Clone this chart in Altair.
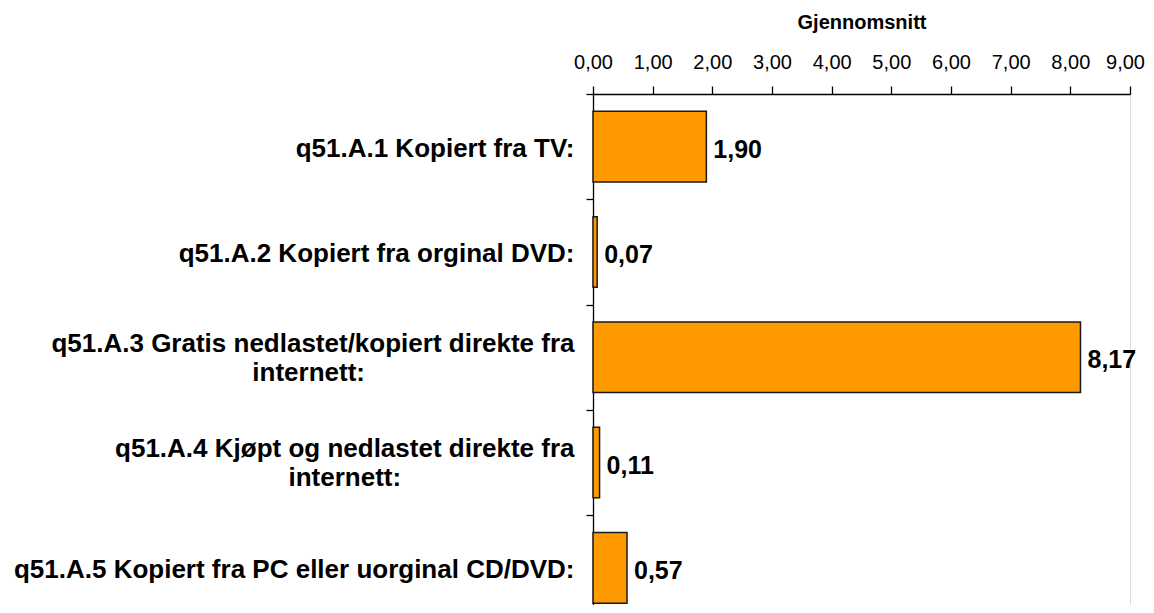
import json
import altair as alt
import pandas as pd

# ---- data ----
categories = [
    "q51.A.1 Kopiert fra TV:",
    "q51.A.2 Kopiert fra orginal DVD:",
    "q51.A.3 Gratis nedlastet/kopiert direkte fra internett:",
    "q51.A.4 Kjøpt og nedlastet direkte fra internett:",
    "q51.A.5 Kopiert fra PC eller uorginal CD/DVD:",
]
values = [1.90, 0.07, 8.17, 0.11, 0.57]
x_ticks = [0, 1, 2, 3, 4, 5, 6, 7, 8, 9]

# line breaks for the two long labels (second line centred under the first)
wrapped = {
    categories[2]: ["q51.A.3 Gratis nedlastet/kopiert direkte fra", "internett:"],
    categories[3]: ["q51.A.4 Kjøpt og nedlastet direkte fra", "internett:"],
}
centre_pad = {categories[2]: 29, categories[3]: 24}

df = pd.DataFrame({"kategori": categories, "verdi": values})

label_expr = "datum.label"
for key, lines in wrapped.items():
    shown = [lines[0], lines[1] + "\u00a0" * centre_pad[key] + "\u200b"]
    label_expr = (
        f"datum.label === {json.dumps(key, ensure_ascii=False)} ? "
        f"{json.dumps(shown, ensure_ascii=False)} : ({label_expr})"
    )

two_line_test = " || ".join(
    f"datum.label === {json.dumps(k, ensure_ascii=False)}" for k in wrapped
)

FONT = "Liberation Sans"
ORANGE = "#FF9900"

y_enc = alt.Y(
    "kategori:N",
    sort=categories,
    scale=alt.Scale(domain=categories, range=[0, 526.5], paddingInner=0, paddingOuter=0),
    axis=alt.Axis(
        title=None,
        labelFont=FONT,
        labelFontSize=26,
        labelFontWeight="bold",
        labelColor="#000000",
        labelLimit=800,
        labelPadding=12,
        labelLineHeight=29,
        labelExpr=label_expr,
        labelOffset={"condition": {"test": two_line_test, "value": -14}, "value": 2},
        tickSize=7,
        tickBand="extent",
        tickColor="#000000",
        tickWidth=1.3,
        domainColor="#000000",
        domainWidth=1.3,
    ),
)

x_enc = alt.X(
    "verdi:Q",
    scale=alt.Scale(domain=[0, 9], nice=False, zero=True),
    axis=alt.Axis(
        orient="top",
        values=x_ticks,
        labelExpr="replace(format(datum.value, '.2f'), '.', ',')",
        title="Gjennomsnitt",
        titleFont=FONT,
        titleFontSize=20,
        titleFontWeight="bold",
        titleColor="#000000",
        titlePadding=20,
        labelFont=FONT,
        labelFontSize=20,
        labelColor="#000000",
        labelPadding=14,
        labelFlush=False,
        labelOffset={"condition": {"test": "datum.value >= 9", "value": -5}, "value": 0},
        tickSize=8,
        tickColor="#000000",
        tickWidth=1.3,
        domainColor="#000000",
        domainWidth=1.3,
        grid=False,
    ),
)

base = alt.Chart(df)

bars = base.mark_bar(
    fill=ORANGE, stroke="#1a1a1a", strokeWidth=1.5, height={"band": 0.67}
).encode(y=y_enc, x=x_enc)

texts = base.transform_calculate(
    tekst="replace(format(datum.verdi, '.2f'), '.', ',')"
).mark_text(
    align="left", baseline="middle", dx=7, dy=3,
    font=FONT, fontSize=25, fontWeight="bold", color="#000000",
).encode(y=alt.Y("kategori:N", sort=categories), x="verdi:Q", text="tekst:N")

chart = (
    alt.layer(bars, texts)
    .properties(
        width=537,
        height=511,
        autosize=alt.AutoSizeParams(type="none"),
        padding={"left": 585, "top": 86, "right": 16, "bottom": 0},
    )
    .configure_view(stroke=None)
    .configure(background="white")
)

chart.save("out.html", embed_options={"renderer": "svg", "actions": False})
